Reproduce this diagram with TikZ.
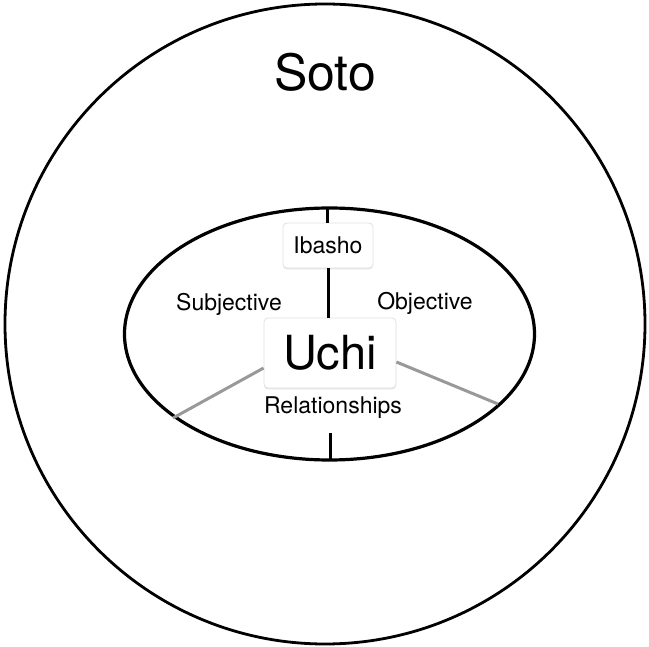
\documentclass[tikz,border=0pt]{standalone}
\usepackage{fontspec}
\setmainfont{TeX Gyre Heros}
\usetikzlibrary{shadows,shapes.geometric}
\begin{document}
\begin{tikzpicture}[x=1pt,y=-1pt,
  lbl/.style={inner sep=0pt,font=\fontsize{23}{26}\selectfont},
  card/.style={draw=black!12,line width=0.8pt,fill=white,rounded corners=4pt,
    drop shadow={opacity=0.2,shadow xshift=0pt,shadow yshift=-1.5pt}},
  blk/.style={line width=3pt,black},
  gry/.style={line width=3pt,black!40}]
\useasboundingbox (0,0) rectangle (649,647);
\node[circle,draw,line width=2.8pt,minimum size=640pt,inner sep=0pt] (outer) at (325,324) {};
\node[inner sep=0pt,font=\fontsize{50}{56}\selectfont] (soto) at (325,72) {Soto};
\node[ellipse,draw,line width=3.2pt,minimum width=410pt,minimum height=252pt,inner sep=0pt] (inner) at (329.5,334) {};
\node[card,minimum width=90pt,minimum height=45pt,inner sep=0pt] (ibox) at (328,245.5) {};
\node[lbl] (ibasho) at (ibox.center) {Ibasho};
\node[card,minimum width=132pt,minimum height=70pt,inner sep=0pt] (ubox) at (330,353) {};
\node[inner sep=0pt,font=\fontsize{47}{52}\selectfont] (uchi) at (ubox.center) {Uchi};
\node[lbl] (subj) at (229,304) {Subjective};
\node[lbl] (obj) at (425,303) {Objective};
\node[lbl] (rel) at (333,408) {Relationships};
\coordinate (etop) at (327,208);
\coordinate (ebot) at (330,460);
\coordinate (btick) at (330,433);
\coordinate (eleft) at (173,418);
\coordinate (eright) at (498,404);
\draw[blk] (etop) -- (ibox.north -| etop);
\draw[blk] (ibox.south) -- (ubox.north -| ibox.south);
\draw[blk] (btick) -- (ebot);
\draw[gry] (ubox.west |- 0,368) -- (eleft);
\draw[gry] (ubox.east |- 0,362) -- (eright);
\end{tikzpicture}
\end{document}
